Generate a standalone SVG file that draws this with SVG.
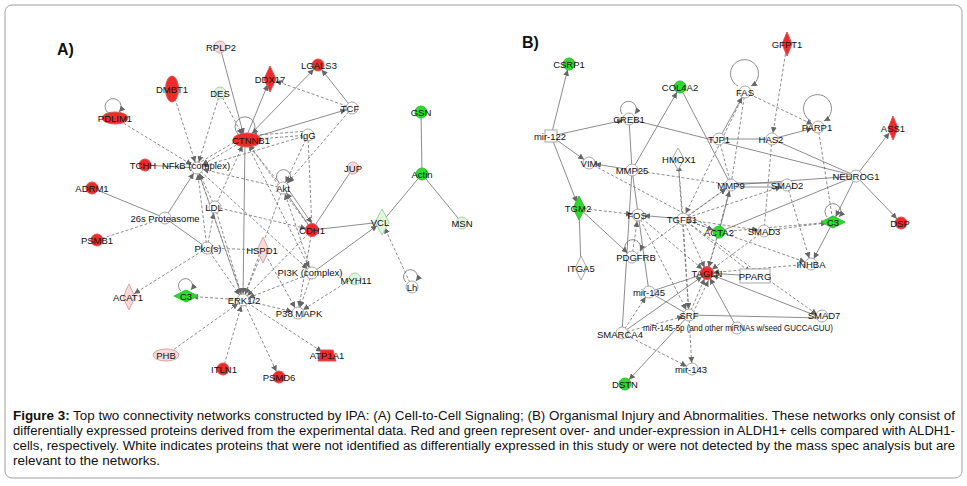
<svg xmlns="http://www.w3.org/2000/svg" width="967" height="486" viewBox="0 0 967 486">
<defs>
<marker id="a" viewBox="0 0 6 6" refX="12" refY="3" markerWidth="6" markerHeight="6" markerUnits="userSpaceOnUse" orient="auto"><path d="M0,0L6,3L0,6z" fill="#666"/></marker>
<marker id="b" viewBox="0 0 6 6" refX="6" refY="3" markerWidth="6" markerHeight="6" markerUnits="userSpaceOnUse" orient="auto"><path d="M0,0L6,3L0,6z" fill="#666"/></marker>
</defs>
<style>
.e{stroke:#6e6e6e;stroke-width:0.8;fill:none}
.d{stroke-dasharray:3,2}
.m{marker-end:url(#a)}
.l{stroke:#6e6e6e;stroke-width:0.8;fill:none;marker-end:url(#b)}
.R{fill:#ee2b2b;stroke:#d55}
.P{fill:#f8dada;stroke:#dba5a5}
.G{fill:#2fda2f;stroke:#3b3}
.g{fill:#e0f6e0;stroke:#a6d3a6}
.W{fill:#fff;stroke:#a8a8a8}
text{font-family:"Liberation Sans",Arial,sans-serif;font-size:9.5px;fill:#111;text-anchor:middle}
.cap{font-size:12.5px;text-anchor:start}
.lab{font-size:16px;font-weight:bold;text-anchor:start}
</style>
<rect x="5" y="5" width="957" height="473" rx="7" fill="#fff" stroke="#a0a0a0" stroke-width="1"/>
<text class="lab" x="57" y="55">A)</text>
<text class="lab" x="522" y="48">B)</text>
<g id="edges">
<!-- panel A -->
<path class="e m" d="M220,47L245,140"/>
<path class="e d m" d="M172,89L197,168"/>
<path class="e d m" d="M220,93L197,168"/>
<path class="e d m" d="M220,93L245,140"/>
<path class="e d m" d="M115,118L197,168"/>
<path class="e m" d="M245,140L270,79"/>
<path class="e m" d="M245,140L318,65"/>
<path class="e m" d="M245,140L352,108"/>
<path class="e m" d="M352,108L318,65"/>
<path class="e d m" d="M352,108L270,79"/>
<path class="e d m" d="M308,135L245,140"/>
<path class="e d m" d="M308,131L245,136"/>
<path class="e d m" d="M245,140L197,168"/>
<path class="e d m" d="M197,164L245,136"/>
<path class="e" d="M145,165L197,168"/>
<path class="e" d="M92,188L165,218"/>
<path class="e d" d="M97,240L165,218"/>
<path class="e m" d="M165,218L197,168"/>
<path class="e" d="M165,218L207,248"/>
<path class="e d m" d="M215,207L197,168"/>
<path class="e d m" d="M215,207L245,140"/>
<path class="e d m" d="M283,188L197,168"/>
<path class="e d m" d="M283,188L245,140"/>
<path class="e d m" d="M312,230L245,140"/>
<path class="e m" d="M312,230L283,188"/>
<path class="e m" d="M286,186L315,228"/>
<path class="e d m" d="M308,135L283,188"/>
<path class="e d" d="M308,135L312,230"/>
<path class="e d m" d="M308,135L197,168"/>
<path class="e" d="M353,168L312,230"/>
<path class="e" d="M421,112L422,174"/>
<path class="e" d="M422,174L382,222"/>
<path class="e" d="M422,174L462,223"/>
<path class="e" d="M312,230L382,222"/>
<path class="e m" d="M312,273L382,222"/>
<path class="e d m" d="M412,287L382,222"/>
<path class="e d m" d="M353,278L298,313"/>
<path class="e d m" d="M312,273L298,313"/>
<path class="e d m" d="M312,273L243,300"/>
<path class="e d m" d="M312,273L283,188"/>
<path class="e d m" d="M207,248L243,300"/>
<path class="e d m" d="M207,248L197,168"/>
<path class="e d" d="M207,248L263,250"/>
<path class="e d m" d="M207,248L215,207"/>
<path class="e d m" d="M207,248L129,297"/>
<path class="e d m" d="M243,300L186,296"/>
<path class="e d m" d="M166,355L243,300"/>
<path class="e d m" d="M223,369L243,300"/>
<path class="e d m" d="M243,300L279,377"/>
<path class="e d m" d="M243,300L327,355"/>
<path class="e d m" d="M243,300L298,313"/>
<path class="e d m" d="M263,250L298,313"/>
<path class="e d m" d="M263,250L243,300"/>
<path class="e m" d="M245,140L243,300"/>
<path class="e d m" d="M245,140L312,273"/>
<path class="e d m" d="M197,168L243,300"/>
<path class="e d m" d="M243,300L197,168"/>
<path class="e d m" d="M312,230L243,300"/>
<path class="e d m" d="M312,230L298,313"/>
<path class="e d m" d="M215,207L243,300"/>
<path class="e d m" d="M352,108L283,188"/>
<path class="e d m" d="M283,188L243,300"/>
<path class="e d m" d="M215,207L312,230"/>
<path class="e d m" d="M197,168L312,273"/>
<path class="l" d="M110,114A8,8 0 1 1 119,112"/>
<path class="l" d="M238,134A10,10 0 1 1 252,134"/>
<path class="l" d="M279,182A7,7 0 1 1 288,182"/>
<path class="l" d="M406,282A7,7 0 1 1 416,281"/>
<path class="l" d="M181,291A7,7 0 1 1 191,290"/>
<!-- panel B -->
<path class="e m" d="M551,136L569,64"/>
<path class="e m" d="M551,136L589,163"/>
<path class="e m" d="M551,136L629,119"/>
<path class="e m" d="M551,136L579,208"/>
<path class="e" d="M629,119L856,176"/>
<path class="e" d="M629,119L632,170"/>
<path class="e m" d="M632,170L680,87"/>
<path class="e m" d="M632,170L589,163"/>
<path class="e" d="M680,87L731,185"/>
<path class="e d m" d="M745,92L818,127"/>
<path class="e m" d="M719,139L745,92"/>
<path class="e d" d="M745,92L731,185"/>
<path class="e d m" d="M787,44L772,139"/>
<path class="e d" d="M772,139L764,231"/>
<path class="e m" d="M772,139L818,127"/>
<path class="e" d="M719,139L772,139"/>
<path class="e d" d="M818,127L833,222"/>
<path class="e m" d="M856,176L893,128"/>
<path class="e m" d="M856,176L901,223"/>
<path class="e m" d="M856,176L833,222"/>
<path class="e" d="M856,176L731,185"/>
<path class="e" d="M772,139L856,176"/>
<path class="e" d="M787,183L731,183"/>
<path class="e" d="M787,187L731,187"/>
<path class="e d m" d="M787,185L811,264"/>
<path class="e d m" d="M764,231L833,222"/>
<path class="e d m" d="M719,232L833,222"/>
<path class="e m" d="M833,222L811,264"/>
<path class="e m" d="M683,219L638,215"/>
<path class="e d m" d="M683,219L678,159"/>
<path class="e d m" d="M683,219L731,185"/>
<path class="e d m" d="M683,219L719,232"/>
<path class="e d m" d="M683,219L707,273"/>
<path class="e d m" d="M683,219L764,231"/>
<path class="e d m" d="M683,219L787,185"/>
<path class="e d m" d="M683,219L755,276"/>
<path class="e d m" d="M683,219L811,264"/>
<path class="e d m" d="M683,219L822,318"/>
<path class="e d m" d="M683,219L689,315"/>
<path class="e d m" d="M579,208L638,215"/>
<path class="e" d="M579,208L581,268"/>
<path class="e m" d="M579,208L632,257"/>
<path class="e d m" d="M632,257L638,215"/>
<path class="e d m" d="M632,257L731,185"/>
<path class="e d m" d="M719,232L707,273"/>
<path class="e d m" d="M731,185L707,273"/>
<path class="e d m" d="M764,231L707,273"/>
<path class="e d m" d="M811,264L707,273"/>
<path class="e" d="M755,276L707,273"/>
<path class="e" d="M707,273L649,292"/>
<path class="e d m" d="M689,315L707,273"/>
<path class="e d m" d="M693,313L711,275"/>
<path class="e m" d="M689,315L625,384"/>
<path class="e d m" d="M689,315L692,369"/>
<path class="e d m" d="M622,333L649,292"/>
<path class="e m" d="M622,333L707,273"/>
<path class="e d m" d="M622,333L689,315"/>
<path class="e d m" d="M622,333L692,369"/>
<path class="e m" d="M737,328L707,273"/>
<path class="e" d="M689,315L822,318"/>
<path class="e m" d="M822,318L707,273"/>
<path class="e" d="M649,292L689,315"/>
<path class="e d m" d="M638,215L689,315"/>
<path class="e d m" d="M678,159L689,315"/>
<path class="e d m" d="M638,215L707,273"/>
<path class="e" d="M632,170L649,292"/>
<path class="e d" d="M719,139L731,185"/>
<path class="e m" d="M719,232L731,185"/>
<path class="e d m" d="M745,92L683,219"/>
<path class="e" d="M856,176L719,232"/>
<path class="e d" d="M632,170L731,185"/>
<path class="e d" d="M589,163L719,232"/>
<path class="e" d="M622,333L632,170"/>
<path class="l" d="M622,114A8,8 0 1 1 635,114"/>
<path class="l" d="M738,86A14,14 0 1 1 751,86"/>
<path class="l" d="M811,121A14,14 0 1 1 824,121"/>
<path class="l" d="M827,217A8,8 0 1 1 839,217"/>
<path class="l" d="M626,252A8,8 0 1 1 640,251"/>
</g>
<!-- Panel A nodes -->
<g id="RPLP2"><circle class="P" cx="220" cy="47" r="6"/><text x="221" y="51">RPLP2</text></g>
<g id="DMBT1"><ellipse class="R" cx="172" cy="89" rx="6.5" ry="13"/><text x="172" y="93">DMBT1</text></g>
<g id="DES"><circle class="g" cx="220" cy="93" r="6"/><text x="220" y="97">DES</text></g>
<g id="PDLIM1"><ellipse class="R" cx="115" cy="118" rx="13" ry="6"/><text x="115" y="122">PDLIM1</text></g>
<g id="DDX17"><path class="R" d="M270,66L276,79L270,92L264,79z"/><text x="270" y="83">DDX17</text></g>
<g id="LGALS3"><circle class="R" cx="318" cy="65" r="6"/><text x="319" y="69">LGALS3</text></g>
<g id="TCF"><circle class="W" cx="352" cy="108" r="6"/><text x="350" y="112">TCF</text></g>
<g id="GSN"><circle class="G" cx="421" cy="112" r="6"/><text x="421" y="116">GSN</text></g>
<g id="CTNNB1"><ellipse class="R" cx="247" cy="140" rx="14" ry="7"/><text x="251" y="144">CTNNB1</text></g>
<g id="IgG"><circle class="W" cx="308" cy="135" r="6"/><text x="308" y="139">IgG</text></g>
<g id="TCHH"><circle class="R" cx="145" cy="165" r="6"/><text x="143" y="169">TCHH</text></g>
<g id="NFkB"><circle class="W" cx="197" cy="168" r="6"/><text x="196" y="169">NFkB (complex)</text></g>
<g id="ADRM1"><circle class="R" cx="92" cy="188" r="6"/><text x="92" y="192">ADRM1</text></g>
<g id="JUP"><circle class="P" cx="353" cy="168" r="6"/><text x="353" y="172">JUP</text></g>
<g id="Actin"><circle class="G" cx="422" cy="174" r="6"/><text x="422" y="178">Actin</text></g>
<g id="Akt"><circle class="W" cx="283" cy="188" r="6"/><text x="283" y="192">Akt</text></g>
<g id="LDL"><circle class="W" cx="215" cy="207" r="6"/><text x="214" y="211">LDL</text></g>
<g id="Proteasome"><circle class="W" cx="165" cy="218" r="6"/><text x="165" y="222">26s Proteasome</text></g>
<g id="CDH1"><circle class="R" cx="312" cy="230" r="6.5"/><text x="312" y="234">CDH1</text></g>
<g id="VCL"><path class="g" d="M382,209L389,222L382,235L375,222z"/><text x="380" y="226">VCL</text></g>
<g id="MSN"><circle class="g" cx="462" cy="223" r="6"/><text x="462" y="227">MSN</text></g>
<g id="PSMB1"><circle class="R" cx="97" cy="240" r="6"/><text x="97" y="244">PSMB1</text></g>
<g id="Pkcs"><circle class="W" cx="207" cy="248" r="6"/><text x="208" y="252">Pkc(s)</text></g>
<g id="HSPD1"><path class="P" d="M263,237L269,250L263,263L257,250z"/><text x="262" y="254">HSPD1</text></g>
<g id="PI3K"><circle class="W" cx="312" cy="273" r="6"/><text x="310" y="276">PI3K (complex)</text></g>
<g id="MYH11"><circle class="g" cx="355" cy="279" r="6"/><text x="356" y="284">MYH11</text></g>
<g id="Lh"><circle class="W" cx="412" cy="287" r="6"/><text x="412" y="291">Lh</text></g>
<g id="ACAT1"><path class="P" d="M129,284L135,297L129,310L123,297z"/><text x="128" y="301">ACAT1</text></g>
<g id="C3a"><path class="G" d="M174,296L186,290L198,296L186,302z"/><text x="186" y="300">C3</text></g>
<g id="ERK"><circle class="W" cx="243" cy="300" r="6"/><text x="244" y="304">ERK1/2</text></g>
<g id="P38"><circle class="W" cx="298" cy="313" r="6"/><text x="299" y="317">P38 MAPK</text></g>
<g id="PHB"><ellipse class="P" cx="166" cy="355" rx="13" ry="6"/><text x="166" y="359">PHB</text></g>
<g id="ATP1A1"><path class="R" d="M321,350L333,350L336,361L318,361z"/><text x="327" y="359">ATP1A1</text></g>
<g id="ITLN1"><circle class="R" cx="223" cy="369" r="6"/><text x="224" y="373">ITLN1</text></g>
<g id="PSMD6"><circle class="R" cx="279" cy="377" r="6"/><text x="279" y="381">PSMD6</text></g>
<!-- Panel B nodes -->
<g id="CSRP1"><circle class="G" cx="569" cy="64" r="6"/><text x="569" y="68">CSRP1</text></g>
<g id="COL4A2"><circle class="G" cx="680" cy="87" r="6"/><text x="680" y="91">COL4A2</text></g>
<g id="FAS"><circle class="W" cx="745" cy="92" r="6"/><text x="745" y="96">FAS</text></g>
<g id="GFPT1"><path class="R" d="M787,32L792,44L787,56L782,44z"/><text x="787" y="48">GFPT1</text></g>
<g id="CREB1"><circle class="W" cx="629" cy="119" r="6"/><text x="629" y="123">CREB1</text></g>
<g id="PARP1"><circle class="W" cx="818" cy="127" r="6"/><text x="817" y="131">PARP1</text></g>
<g id="ASS1"><path class="R" d="M893,116L898,128L893,140L888,128z"/><text x="893" y="132">ASS1</text></g>
<g id="mir122"><rect class="W" x="545" y="130" width="12" height="12"/><text x="550" y="140">mir-122</text></g>
<g id="TJP1"><circle class="W" cx="719" cy="139" r="6"/><text x="719" y="143">TJP1</text></g>
<g id="HAS2"><circle class="W" cx="772" cy="139" r="6"/><text x="771" y="143">HAS2</text></g>
<g id="HMOX1"><path class="W" d="M678,148L684,159L678,170L672,159z"/><text x="679" y="163">HMOX1</text></g>
<g id="VIM"><circle class="W" cx="589" cy="163" r="6"/><text x="589" y="167">VIM</text></g>
<g id="MMP25"><circle class="W" cx="632" cy="170" r="6"/><text x="632" y="174">MMP25</text></g>
<g id="NEUROG1"><circle class="W" cx="856" cy="176" r="6"/><text x="856" y="180">NEUROG1</text></g>
<g id="MMP9"><circle class="W" cx="731" cy="185" r="6"/><text x="731" y="189">MMP9</text></g>
<g id="SMAD2"><circle class="W" cx="787" cy="185" r="6"/><text x="787" y="189">SMAD2</text></g>
<g id="TGM2"><path class="G" d="M579,196L585,208L579,220L573,208z"/><text x="578" y="212">TGM2</text></g>
<g id="FOS"><circle class="W" cx="638" cy="215" r="6"/><text x="637" y="219">FOS</text></g>
<g id="TGFB1"><circle class="W" cx="683" cy="219" r="6"/><text x="682" y="223">TGFB1</text></g>
<g id="C3b"><path class="G" d="M821,222L833,216L845,222L833,228z"/><text x="833" y="226">C3</text></g>
<g id="DSP"><circle class="R" cx="901" cy="223" r="6"/><text x="900" y="227">DSP</text></g>
<g id="SMAD3"><circle class="W" cx="764" cy="231" r="6"/><text x="764" y="235">SMAD3</text></g>
<g id="ACTA2"><circle class="G" cx="719" cy="232" r="6"/><text x="719" y="236">ACTA2</text></g>
<g id="PDGFRB"><circle class="W" cx="632" cy="257" r="6"/><text x="636" y="261">PDGFRB</text></g>
<g id="INHBA"><circle class="W" cx="811" cy="264" r="6"/><text x="811" y="268">INHBA</text></g>
<g id="ITGA5"><path class="W" d="M581,256L587,268L581,280L575,268z"/><text x="581" y="272">ITGA5</text></g>
<g id="TAGLN"><circle class="R" cx="707" cy="273" r="6.5"/><text x="707" y="277">TAGLN</text></g>
<g id="PPARG"><rect class="W" x="740" y="269" width="30" height="14"/><text x="755" y="280">PPARG</text></g>
<g id="mir145"><circle class="W" cx="649" cy="292" r="6"/><text x="649" y="296">mir-145</text></g>
<g id="SRF"><circle class="W" cx="689" cy="315" r="6"/><text x="689" y="319">SRF</text></g>
<g id="SMAD7"><circle class="W" cx="822" cy="316" r="6"/><text x="824" y="319">SMAD7</text></g>
<g id="miR145-5p"><circle class="W" cx="737" cy="328" r="6"/><text x="643" y="331" style="text-anchor:start" textLength="190" lengthAdjust="spacingAndGlyphs">miR-145-5p (and other miRNAs w/seed GUCCAGUU)</text></g>
<g id="SMARCA4"><circle class="W" cx="622" cy="333" r="6"/><text x="620" y="338">SMARCA4</text></g>
<g id="mir143"><circle class="W" cx="692" cy="369" r="6"/><text x="691" y="373">mir-143</text></g>
<g id="DSTN"><circle class="G" cx="625" cy="384" r="6"/><text x="625" y="388">DSTN</text></g>
<!-- caption -->
<text class="cap" x="13" y="420" textLength="942" lengthAdjust="spacingAndGlyphs"><tspan font-weight="bold">Figure 3:</tspan> Top two connectivity networks constructed by IPA: (A) Cell-to-Cell Signaling; (B) Organismal Injury and Abnormalities. These networks only consist of</text>
<text class="cap" x="13" y="435" textLength="942" lengthAdjust="spacingAndGlyphs">differentially expressed proteins derived from the experimental data. Red and green represent over- and under-expression in ALDH1+ cells compared with ALDH1-</text>
<text class="cap" x="13" y="450" textLength="942" lengthAdjust="spacingAndGlyphs">cells, respectively. White indicates proteins that were not identified as differentially expressed in this study or were not detected by the mass spec analysis but are</text>
<text class="cap" x="13" y="465" textLength="147" lengthAdjust="spacingAndGlyphs">relevant to the networks.</text>
</svg>
